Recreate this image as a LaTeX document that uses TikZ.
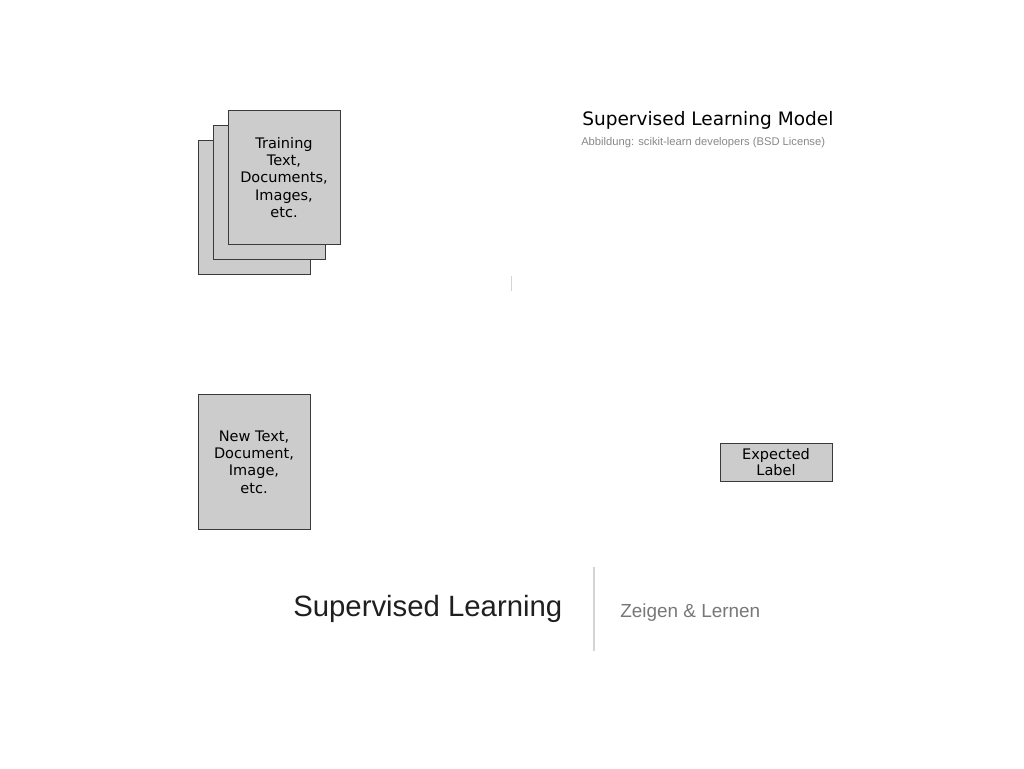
\documentclass[tikz,border=0pt]{standalone}
\usepackage{fontspec}
\setmainfont{DejaVu Sans}
\newfontfamily\helv{Liberation Sans}
\definecolor{docfill}{HTML}{CCCCCC}
\definecolor{docline}{HTML}{3A3A3A}
\definecolor{subgray}{HTML}{888888}
\definecolor{rulegray}{HTML}{D4D4D4}
\definecolor{sidegray}{HTML}{777777}
\begin{document}
\begin{tikzpicture}[x=0.75pt,y=-0.75pt,
  doc/.style={draw=docline,fill=docfill,line width=0.7pt,inner sep=0pt,
    minimum width=84pt,minimum height=101pt,align=center,
    font=\fontsize{10.9}{12.9}\selectfont},
  labelbox/.style={draw=docline,fill=docfill,line width=0.7pt,inner sep=0pt,
    minimum width=84pt,minimum height=28.5pt,align=center,
    font=\fontsize{10.9}{12}\selectfont}]
\useasboundingbox (0,0) rectangle (1024,768);
% stacked training documents
\node[doc] (back) at (254,207.5) {};
\node[doc] (mid) at (269,192.5) {};
\node[doc] (front) at (284,177.5) {Training\\Text,\\Documents,\\Images,\\etc.};
% new sample
\node[doc] (new) at (254,462) {New Text,\\Document,\\Image,\\etc.};
% predicted output
\node[labelbox] (expected) at (776,462) {Expected\\Label};
% title and credit
\node[anchor=base west,inner sep=0pt,font=\fontsize{13.9}{16}\selectfont] (title) at (582,125) {Supervised Learning Model};
\node[anchor=base west,inner sep=0pt,text=subgray,font=\helv\fontsize{8.4}{10}\selectfont] (credit) at (581,145) {Abbildung: scikit-learn developers (BSD License)};
% small tick
\coordinate (t1) at (511,276);
\coordinate (t2) at (511,291);
\draw[rulegray,line width=0.6pt] (t1) -- (t2);
% footer
\node[anchor=base west,inner sep=0pt,text=black!88,font=\helv\fontsize{22}{26}\selectfont] (foot) at (293,616) {Supervised Learning};
\coordinate (s1) at (594,567);
\coordinate (s2) at (594,651);
\draw[rulegray,line width=0.9pt] (s1) -- (s2);
\node[anchor=base west,inner sep=0pt,text=sidegray,font=\helv\fontsize{14.2}{17}\selectfont] (side) at (620,617) {Zeigen \& Lernen};
\end{tikzpicture}
\end{document}
